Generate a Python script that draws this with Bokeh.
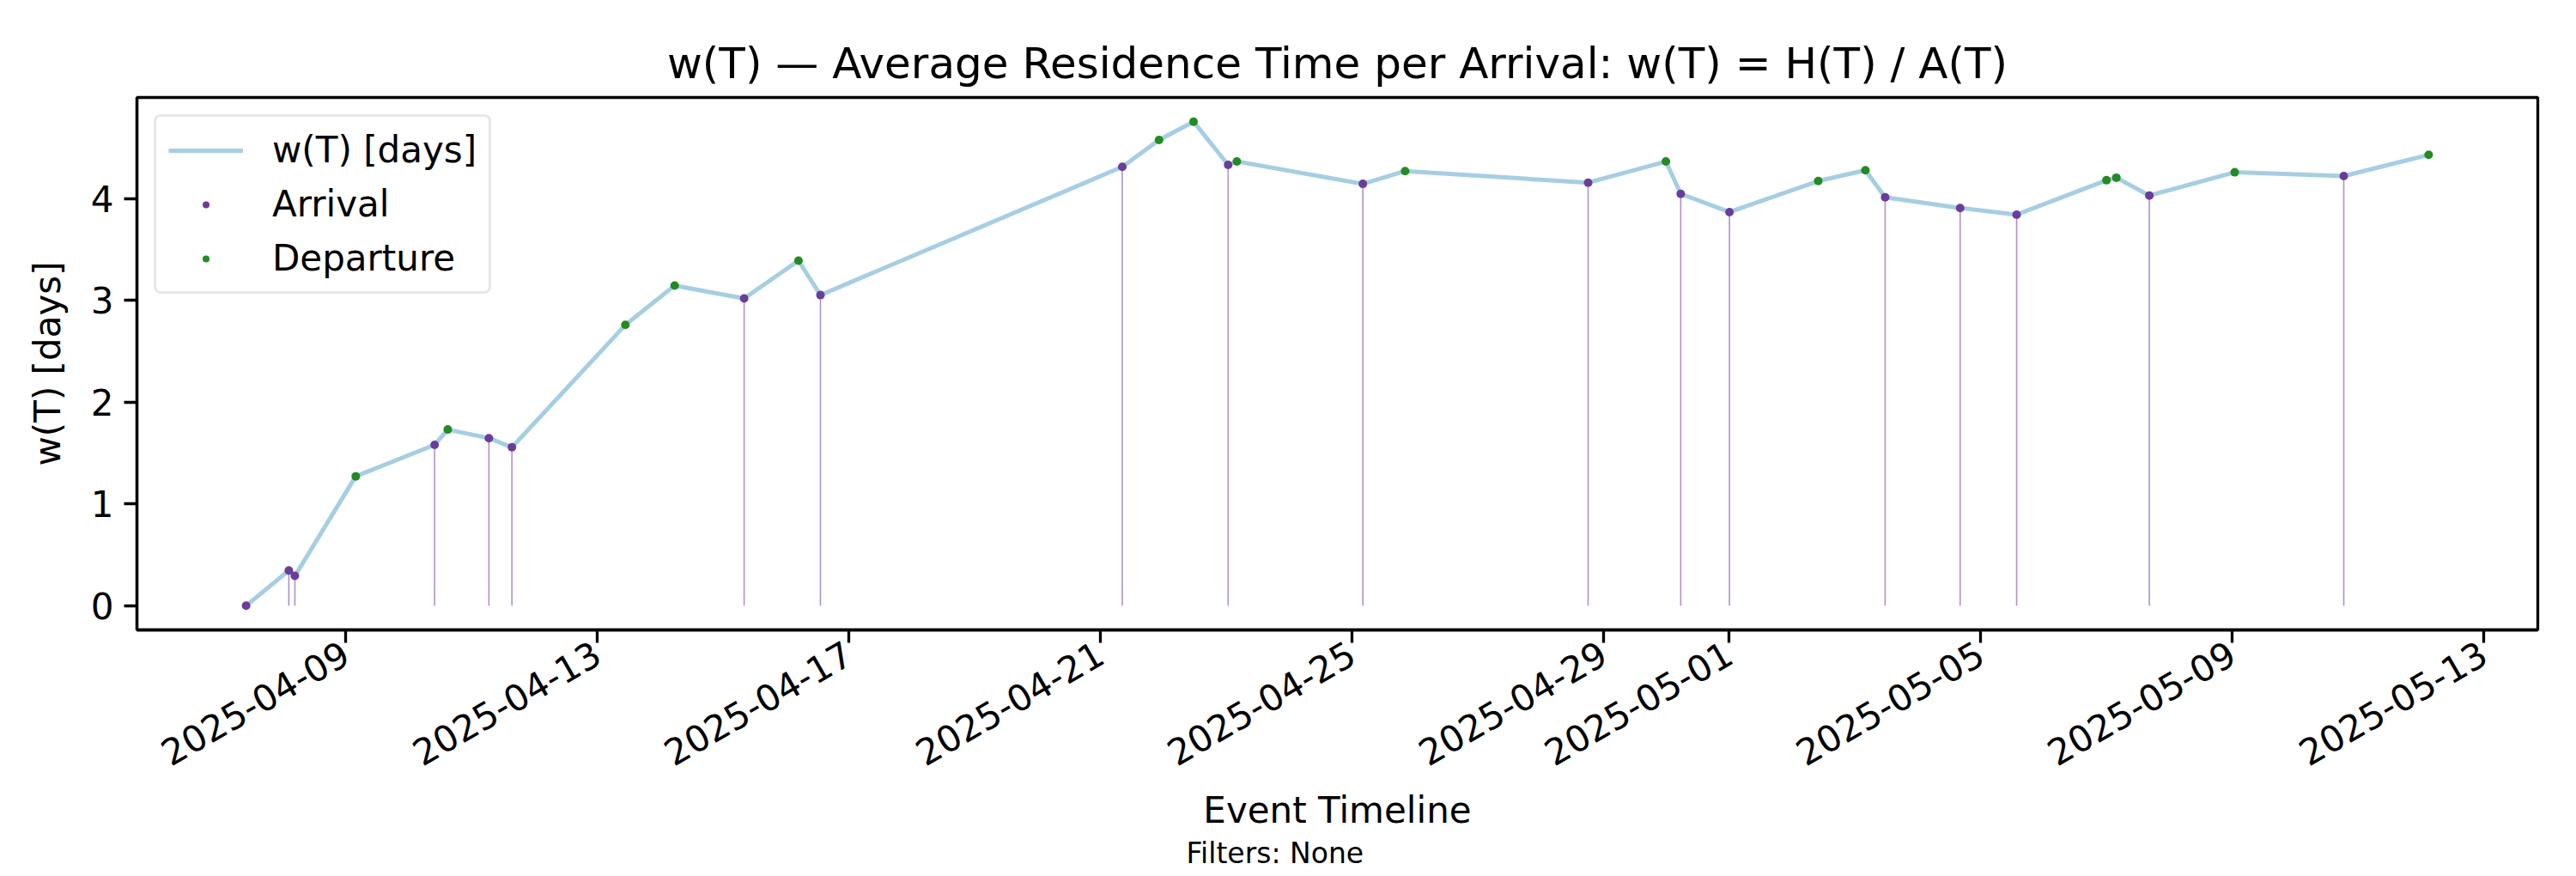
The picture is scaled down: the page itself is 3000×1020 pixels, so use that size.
import math
import pandas as pd
from bokeh.plotting import figure
from bokeh.models import Range1d, FixedTicker, DatetimeTickFormatter, Title
from bokeh.embed import file_html
from bokeh.resources import INLINE

# event timestamps, w(T) after each event, and event kind (A = arrival, D = departure)
event_times = [
    "2025-04-07 09:58", "2025-04-08 02:17", "2025-04-08 04:35", "2025-04-09 03:49",
    "2025-04-10 09:55", "2025-04-10 14:56", "2025-04-11 06:39", "2025-04-11 15:26",
    "2025-04-13 10:44", "2025-04-14 05:33", "2025-04-15 08:04", "2025-04-16 04:48",
    "2025-04-16 13:11", "2025-04-21 08:24", "2025-04-21 22:25", "2025-04-22 11:36",
    "2025-04-23 00:48", "2025-04-23 04:08", "2025-04-25 04:13", "2025-04-25 20:21",
    "2025-04-28 18:12", "2025-04-29 23:53", "2025-04-30 05:33", "2025-05-01 00:09",
    "2025-05-02 10:02", "2025-05-03 04:02", "2025-05-03 11:34", "2025-05-04 16:12",
    "2025-05-05 13:45", "2025-05-07 00:03", "2025-05-07 03:49", "2025-05-07 16:24",
    "2025-05-09 00:59", "2025-05-10 18:37", "2025-05-12 03:01",
]
w_days = [
    0.0, 0.346, 0.293, 1.271,
    1.58, 1.731, 1.646, 1.556,
    2.758, 3.145, 3.018, 3.389,
    3.051, 4.31, 4.574, 4.754,
    4.33, 4.363, 4.143, 4.269,
    4.155, 4.363, 4.045, 3.866,
    4.171, 4.277, 4.012, 3.906,
    3.841, 4.179, 4.204, 4.029,
    4.257, 4.22, 4.428,
]
event_kind = [
    "A", "A", "A", "D",
    "A", "D", "A", "A",
    "D", "D", "A", "D",
    "A", "A", "D", "D",
    "A", "D", "A", "D",
    "A", "D", "A", "A",
    "D", "D", "A", "A",
    "A", "D", "D", "A",
    "D", "A", "D",
]

x_tick_dates = ["2025-04-09", "2025-04-13", "2025-04-17", "2025-04-21", "2025-04-25",
                "2025-04-29", "2025-05-01", "2025-05-05", "2025-05-09", "2025-05-13"]
y_ticks = [0, 1, 2, 3, 4]

FONT = "DejaVu Sans"

df = pd.DataFrame({"t": pd.to_datetime(event_times), "w": w_days, "kind": event_kind})
arr = df[df["kind"] == "A"]
dep = df[df["kind"] == "D"]


def to_ms(ts):
    return (pd.Timestamp(ts) - pd.Timestamp("1970-01-01")) / pd.Timedelta("1ms")


# matplotlib style 5% margins
t0, t1 = to_ms(df["t"].min()), to_ms(df["t"].max())
pad_t = (t1 - t0) * 0.05
wmin, wmax = min(w_days), max(w_days)
pad_w = (wmax - wmin) * 0.05

p = figure(width=2984, height=1012, x_axis_type="datetime",
           output_backend="svg", toolbar_location=None,
           x_range=Range1d(t0 - pad_t, t1 + pad_t),
           y_range=Range1d(wmin - pad_w, wmax + pad_w),
           min_border_left=159, min_border_right=29,
           min_border_top=113, min_border_bottom=278)

p.title.text = "w(T) \u2014 Average Residence Time per Arrival: w(T) = H(T) / A(T)"
p.title.align = "center"
p.title.text_font = FONT
p.title.text_font_size = "50px"
p.title.text_font_style = "normal"
p.title.text_color = "black"
p.title.standoff = 22

p.grid.visible = False
p.outline_line_color = "black"
p.outline_line_width = 3.3
p.outline_line_alpha = 1

# stems for arrivals
p.segment(x0="t", y0=0, x1="t", y1="w", source=arr, line_color="#6a3d9a",
          line_alpha=0.55, line_width=1.6)
p.line(df["t"], df["w"], line_color="#a6cee3", line_width=5, legend_label="w(T) [days]")
p.scatter(arr["t"], arr["w"], size=10, fill_color="#6a3d9a", line_color=None,
          legend_label="Arrival")
p.scatter(dep["t"], dep["w"], size=10, fill_color="#228b22", line_color=None,
          legend_label="Departure")

p.xaxis.ticker = FixedTicker(ticks=[to_ms(d) for d in x_tick_dates])
p.xaxis.formatter = DatetimeTickFormatter(days="%Y-%m-%d", months="%Y-%m-%d",
                                          hours="%Y-%m-%d", years="%Y-%m-%d")
p.xaxis.major_label_orientation = math.pi / 6
p.yaxis.ticker = FixedTicker(ticks=y_ticks)

for ax in (p.xaxis[0], p.yaxis[0]):
    ax.axis_line_width = 3.3
    ax.major_tick_line_width = 3.3
    ax.major_tick_in = 0
    ax.major_tick_out = 15
    ax.minor_tick_line_color = None
    ax.major_label_text_font = FONT
    ax.major_label_text_font_size = "42px"
    ax.major_label_text_color = "black"
    ax.major_label_standoff = 12
    ax.axis_label_text_font = FONT
    ax.axis_label_text_font_size = "42px"
    ax.axis_label_text_font_style = "normal"
    ax.axis_label_text_color = "black"

p.xaxis.major_label_standoff = 9
p.xaxis.axis_label = "Event Timeline"
p.xaxis.axis_label_standoff = 10
p.yaxis.axis_label = "w(T) [days]"
p.yaxis.axis_label_standoff = 23

# footnote below the axis label (left edge placed so the text is centred on the canvas)
p.add_layout(Title(text="Filters: None", align="left", offset=1222,
                   text_font=FONT, text_font_size="33px", text_font_style="normal",
                   text_color="black", text_line_height=1.0, standoff=0), "below")

lg = p.legend[0]
lg.location = "top_left"
lg.margin = 20
lg.padding = 14
lg.spacing = 14
lg.glyph_width = 87
lg.glyph_height = 20
lg.label_standoff = 34
lg.label_text_font = FONT
lg.label_text_font_size = "42px"
lg.label_text_color = "black"
lg.border_line_color = "#d0d0d0"
lg.border_line_width = 3.3
lg.background_fill_alpha = 0.8
if "border_radius" in lg.properties():
    lg.border_radius = 8

open("out.html", "w").write(file_html(p, INLINE))
